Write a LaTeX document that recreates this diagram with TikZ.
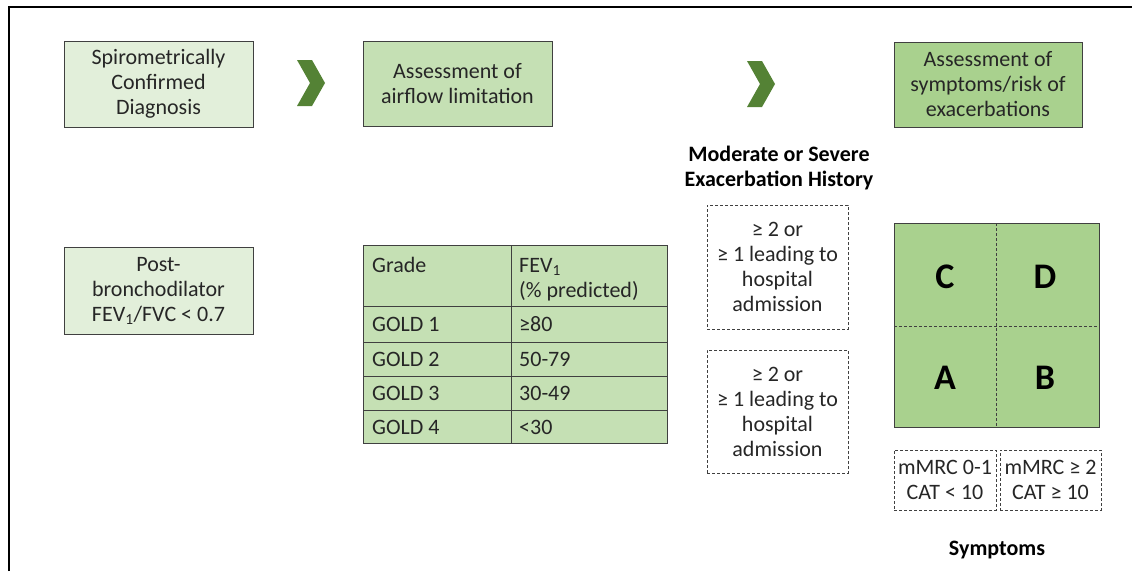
\documentclass[tikz,border=0pt]{standalone}
\usepackage{fontspec}
\setmainfont{Carlito}

\definecolor{palegreen}{HTML}{E2EFDA}
\definecolor{midgreen}{HTML}{C5E0B4}
\definecolor{deepgreen}{HTML}{A9D18E}
\definecolor{arrowgreen}{HTML}{548235}
\definecolor{linegray}{HTML}{404040}
\definecolor{textgray}{HTML}{262626}

\tikzset{
    stepbox/.style={draw=linegray, line width=0.8pt, align=center, inner sep=0pt,
        text=textgray, font=\fontsize{22}{25}\selectfont},
    dashbox/.style={draw=linegray, line width=0.6pt, dash pattern=on 3pt off 2pt,
        align=center, inner sep=0pt, text=textgray, font=\fontsize{22}{25}\selectfont},
    cell/.style={anchor=base west, inner sep=0pt, align=left, text=textgray,
        font=\fontsize{22}{25}\selectfont},
    heading/.style={align=center, inner sep=0pt, font=\bfseries\fontsize{22}{25}\selectfont},
    letter/.style={inner sep=0pt, font=\bfseries\fontsize{36}{40}\selectfont},
}

\newcommand{\chevron}[1]{%
    \fill[arrowgreen] (#1) ++(-14,-23) -- ++(15,0) -- ++(13,23) -- ++(-13,23)
        -- ++(-15,0) -- ++(13,-23) -- cycle;}

\begin{document}
\begin{tikzpicture}[x=1pt, y=-1pt]
    \useasboundingbox (0,0) rectangle (1132,571);
    \draw[line width=2pt] (9,571) -- (9,7) -- (1132,7);

    % top row
    \node[stepbox, fill=palegreen, minimum width=189, minimum height=86] (diag) at (158.5,84)
        {Spirometrically\\Confirmed\\Diagnosis};
    \node[stepbox, fill=midgreen, minimum width=189, minimum height=85] (airflow) at (457.5,83.5)
        {Assessment of\\airflow limitation};
    \node[stepbox, fill=deepgreen, minimum width=188, minimum height=85] (symrisk) at (988,84.5)
        {Assessment of\\symptoms/risk of\\exacerbations};
    \chevron{311,83}
    \chevron{761,84}

    % spirometry
    \node[stepbox, fill=palegreen, minimum width=189, minimum height=87] (postbd) at (158.5,290.5)
        {Post-\\bronchodilator\\FEV\textsubscript{1}/FVC < 0.7};

    % GOLD grades
    \fill[midgreen] (363,245) rectangle (667,443);
    \draw[linegray, line width=0.8pt] (363,245) rectangle (667,443);
    \draw[linegray, line width=0.8pt] (511,245) -- (511,443);
    \foreach \y in {306,342,376,410}
        \draw[linegray, line width=0.8pt] (363,\y) -- (667,\y);
    \node[cell] (grade) at (372,272) {Grade};
    \node[cell] (fev) at (519,297) {FEV\textsubscript{1}\\(\% predicted)};
    \foreach \g/\v/\y in {1/≥80/331, 2/50-79/366, 3/30-49/400, 4/<30/434} {
        \node[cell] (gold\g) at (372,\y) {GOLD \g};
        \node[cell] (val\g) at (519,\y) {\v};
    }

    % exacerbation history
    \node[heading] (exahead) at (779,168) {Moderate or Severe\\Exacerbation History};
    \node[dashbox, minimum width=141, minimum height=124] (exahigh) at (777.5,267)
        {≥ 2 or\\≥ 1 leading to\\hospital\\admission};
    \node[dashbox, minimum width=141, minimum height=123] (exalow) at (777.5,411.5)
        {≥ 2 or\\≥ 1 leading to\\hospital\\admission};

    % ABCD grid
    \fill[deepgreen] (894,223) rectangle (1099,427);
    \draw[linegray, line width=0.8pt] (894,223) rectangle (1099,427);
    \draw[linegray, line width=0.6pt, dash pattern=on 3pt off 2pt] (996,223) -- (996,427);
    \draw[linegray, line width=0.6pt, dash pattern=on 3pt off 2pt] (894,326) -- (1099,326);
    \node[letter] (grpC) at (945,277) {C};
    \node[letter] (grpD) at (1045,277) {D};
    \node[letter] (grpA) at (945,378) {A};
    \node[letter] (grpB) at (1045,378) {B};

    % symptoms
    \node[dashbox, minimum width=102, minimum height=60] (symlow) at (945,480)
        {mMRC 0-1\\CAT < 10};
    \node[dashbox, minimum width=101, minimum height=60] (symhigh) at (1050.5,480)
        {mMRC ≥ 2\\CAT ≥ 10};
    \node[heading] (symhead) at (997,550) {Symptoms};
\end{tikzpicture}
\end{document}
